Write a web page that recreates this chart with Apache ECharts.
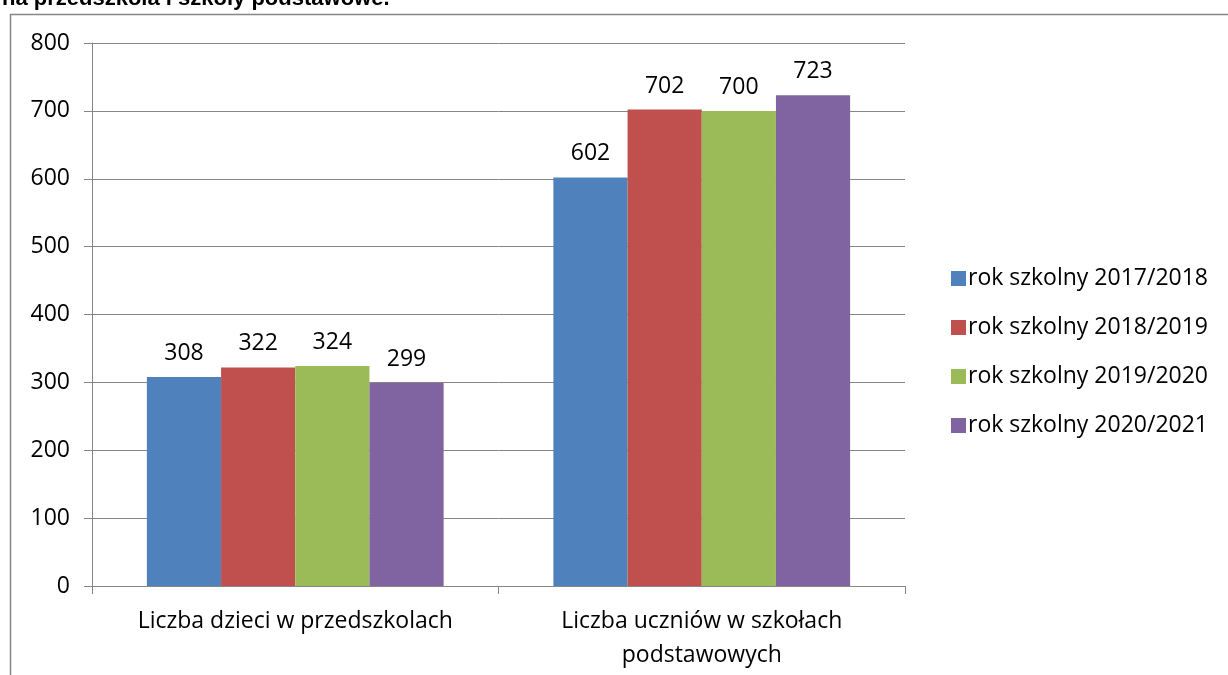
<!DOCTYPE html>
<html>
<head>
<meta charset="utf-8">
<script src="https://cdn.jsdelivr.net/npm/echarts@6/dist/echarts.min.js"></script>
<style>
  html, body { margin: 0; padding: 0; background: #fff; }
  #chart { width: 1228px; height: 675px; }
</style>
</head>
<body>
<div id="chart"></div>
<script>
const categories = ['Liczba dzieci w przedszkolach', 'Liczba uczniów w szkołach\npodstawowych']
const seriesNames = ['rok szkolny 2017/2018', 'rok szkolny 2018/2019', 'rok szkolny 2019/2020', 'rok szkolny 2020/2021']
const values2017 = [308, 602]
const values2018 = [322, 702]
const values2019 = [324, 700]
const values2020 = [299, 723]
const colors = ['#4F81BD', '#C0504D', '#9BBB59', '#8064A2']

const fontFamily = '"Open Sans", "Noto Sans", sans-serif'
const fontSize = 23
const allValues = [values2017, values2018, values2019, values2020]

const chart = echarts.init(document.getElementById('chart'))

const series = seriesNames.map((name, i) => {
  return {
    name: name,
    type: 'bar',
    data: allValues[i],
    barGap: '0%',
    barCategoryGap: '27%',
    itemStyle: { color: colors[i] },
    label: {
      show: true,
      position: 'top',
      distance: 12,
      color: '#000',
      fontSize: fontSize,
      fontFamily: fontFamily
    }
  }
})

const option = {
  animation: false,
  color: colors,
  graphic: [
    {
      type: 'rect',
      shape: { x: 10.5, y: 14.5, width: 1300, height: 700 },
      style: { fill: 'none', stroke: '#868686', lineWidth: 1.5 }
    },
    {
      type: 'text',
      left: 2,
      top: -12,
      style: {
        text: 'na przedszkola i szkoły podstawowe.',
        fontSize: 22,
        fontWeight: 'bold',
        fontFamily: '"Liberation Sans", Arial, sans-serif',
        fill: '#000'
      }
    }
  ],
  legend: {
    orient: 'vertical',
    left: 946,
    top: 262,
    itemWidth: 15,
    itemHeight: 15,
    itemGap: 26,
    icon: 'rect',
    textStyle: { fontSize: fontSize, fontFamily: fontFamily, color: '#000', padding: [0, 0, 0, -3] }
  },
  grid: {
    left: 92,
    right: 323,
    top: 43,
    bottom: 89,
    containLabel: false
  },
  xAxis: {
    type: 'category',
    data: categories,
    axisLine: { lineStyle: { color: '#868686', width: 1 } },
    axisTick: { show: true, length: 8, lineStyle: { color: '#868686' } },
    axisLabel: {
      interval: 0,
      color: '#000',
      fontSize: fontSize,
      fontFamily: fontFamily,
      margin: 18,
      lineHeight: 34
    }
  },
  yAxis: {
    type: 'value',
    min: 0,
    max: 800,
    interval: 100,
    axisLine: { show: true, lineStyle: { color: '#868686', width: 1 } },
    axisTick: { show: true, length: 8, lineStyle: { color: '#868686' } },
    splitLine: { lineStyle: { color: '#868686', width: 1 } },
    axisLabel: {
      color: '#000',
      fontSize: fontSize,
      fontFamily: fontFamily,
      margin: 22
    }
  },
  series: series
}

chart.setOption(option)
</script>
</body>
</html>
